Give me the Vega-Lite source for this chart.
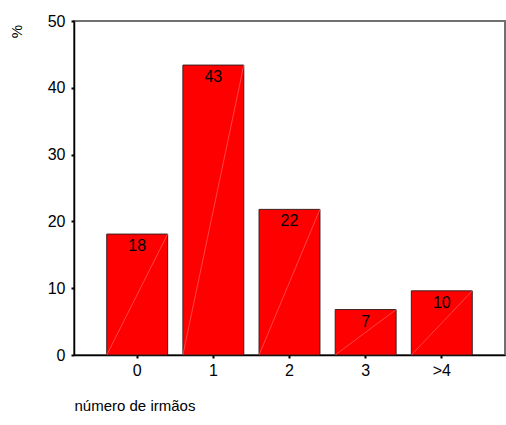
{
  "$schema": "https://vega.github.io/schema/vega-lite/v6.json",
  "width": 431,
  "height": 334,
  "autosize": "none",
  "padding": {"left": 74, "top": 21, "right": 1, "bottom": 70},
  "background": "white",
  "config": {
    "font": "Liberation Sans",
    "view": {"stroke": "#707070", "strokeWidth": 2},
    "axis": {"grid": false, "domainColor": "#000000", "domainWidth": 1.5, "tickColor": "#000000", "tickWidth": 2, "tickSize": 3, "labelFont": "Liberation Sans", "labelFontSize": 16, "labelColor": "#000000", "titleFont": "Liberation Sans", "titleFontSize": 15, "titleFontWeight": "normal", "titleColor": "#000000"}
  },
  "data": {
    "values": [
      {"irmaos": "0", "pct": 18.1},
      {"irmaos": "1", "pct": 43.4},
      {"irmaos": "2", "pct": 21.8},
      {"irmaos": "3", "pct": 6.8},
      {"irmaos": ">4", "pct": 9.6}
    ]
  },
  "encoding": {
    "x": {
      "field": "irmaos",
      "type": "nominal",
      "sort": null,
      "scale": {"paddingInner": 0.2, "paddingOuter": 0.43},
      "axis": {"title": "número de irmãos", "labelAngle": 0, "labelPadding": 4, "titleX": 0, "titleY": 50, "titleAlign": "left", "titleBaseline": "middle"}
    }
  },
  "layer": [
    {
      "mark": {"type": "bar", "color": "#ff0000", "stroke": "#3b1f1f", "strokeWidth": 1},
      "encoding": {
        "y": {
          "field": "pct",
          "type": "quantitative",
          "scale": {"domain": [0, 50], "nice": false},
          "axis": {"title": "%", "values": [0, 10, 20, 30, 40, 50], "labelPadding": 6, "titleAngle": -90, "titleX": -58, "titleY": 10, "titleAlign": "center", "titleBaseline": "middle"}
        }
      }
    },
    {
      "mark": {"type": "rule", "color": "#ff9090", "strokeWidth": 0.6, "opacity": 0.8},
      "encoding": {
        "x": {"field": "irmaos", "type": "nominal", "sort": null, "bandPosition": 1},
        "x2": {"field": "irmaos", "bandPosition": 0},
        "y": {"field": "pct", "type": "quantitative"},
        "y2": {"datum": 0}
      }
    },
    {
      "mark": {"type": "text", "baseline": "top", "dy": 4, "fontSize": 16, "color": "#000000"},
      "encoding": {
        "y": {"field": "pct", "type": "quantitative"},
        "text": {"field": "pct", "type": "quantitative", "format": ".0f"}
      }
    }
  ]
}
